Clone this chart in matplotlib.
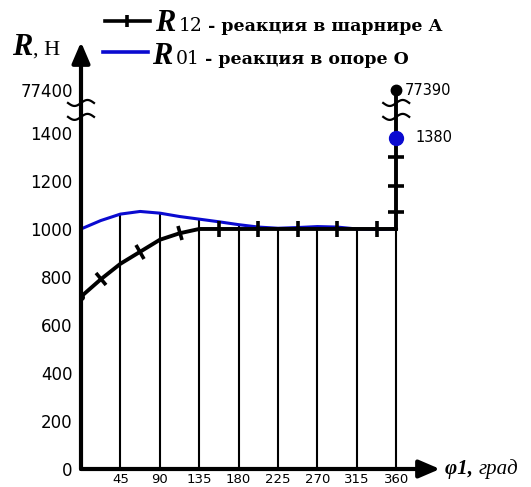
import numpy as np
import matplotlib
matplotlib.use("Agg")
import matplotlib.pyplot as plt
from matplotlib.markers import MarkerStyle
from matplotlib.transforms import Affine2D, IdentityTransform
from matplotlib.lines import Line2D

# ---- data -------------------------------------------------------------
angles = [0, 22.5, 45, 67.5, 90, 112.5, 135, 157.5, 180, 202.5,
          225, 247.5, 270, 292.5, 315, 337.5, 360]
r12 = [718, 790, 855, 905, 955, 982, 1000, 1000, 1000, 1000,
       1000, 1000, 1000, 1000, 1000, 1000, 1000]
r01 = [1000, 1035, 1062, 1073, 1066, 1052, 1041, 1030, 1018, 1008,
       1003, 1006, 1010, 1008, 1000, 998, 1000]

# jump of R12 at phi = 360
jump_angle = 360
r12_jump = [1000, 1070, 1180, 1300, 77390]
r12_peak = 77390
r01_peak = 1380

grid_angles = [45, 90, 135, 180, 225, 270, 315, 360]
x_ticks = [45, 90, 135, 180, 225, 270, 315, 360]
y_ticks = [0, 200, 400, 600, 800, 1000, 1200, 1400, 77400]

# ---- broken y scale ---------------------------------------------------
LIN_TOP = 1450.0
BRK_VAL = 77400.0
BRK_U = 1579.0
K = (BRK_U - LIN_TOP) / (BRK_VAL - LIN_TOP)


def fwd(v):
    v = np.asarray(v, dtype=float)
    return np.where(v <= LIN_TOP, v, LIN_TOP + (v - LIN_TOP) * K)


def inv(u):
    u = np.asarray(u, dtype=float)
    return np.where(u <= LIN_TOP, u, LIN_TOP + (u - LIN_TOP) / K)


W, H = 531, 487
DPI = 100
fig = plt.figure(figsize=(W / DPI, H / DPI), dpi=DPI)
ax = fig.add_axes([81 / W, 1 - 469 / H, (440 - 81) / W, (469 - 42) / H])
ax.set_yscale("function", functions=(fwd, inv))
ax.set_xlim(0, 410)
ax.set_ylim(0, float(inv(1779)))
for s in ax.spines.values():
    s.set_visible(False)

BLUE = "#0a0ad0"
SANS = "DejaVu Sans"
SERIF = "DejaVu Serif"
TIMES = "Liberation Serif"

# vertical lines at every 45 degrees
top_at = {a: max(b, c) for a, b, c in zip(angles, r12, r01)}
ax.vlines(grid_angles, 0, [top_at[a] if a != 360 else 1000 for a in grid_angles],
          color="black", lw=1.5, zorder=1)

# curves
ax.plot(angles, r01, color=BLUE, lw=2.2, zorder=3, solid_capstyle="round")
ax.plot(angles, r12, color="black", lw=2.8, zorder=4, solid_capstyle="round")
ax.plot([jump_angle] * len(r12_jump), r12_jump, color="black", lw=2.8, zorder=4)
ax.plot([angles[0]], [r12[0]], "o", color="black", ms=4, zorder=5)
ax.plot([jump_angle], [r12_peak], "o", color="black", ms=7.5, zorder=6)
ax.plot([jump_angle], [r01_peak], "o", color=BLUE, ms=10, zorder=6)

# axes arrows
arrow = dict(arrowstyle="-|>,head_length=0.7,head_width=0.3", lw=3,
             color="black", shrinkA=0, shrinkB=0, mutation_scale=18)
ax.annotate("", xy=(1, 0), xytext=(0, 0), xycoords="axes fraction",
            arrowprops=arrow, annotation_clip=False, zorder=7)
ax.annotate("", xy=(0, 1), xytext=(0, 0), xycoords="axes fraction",
            arrowprops=arrow, annotation_clip=False, zorder=7)

# ticks
ax.set_xticks(x_ticks)
ax.set_xticklabels([str(t) for t in x_ticks], fontsize=9.5, family=SANS)
ax.set_yticks(y_ticks)
ax.set_yticklabels([str(t) for t in y_ticks], fontsize=12, family=SANS)
ax.tick_params(axis="both", length=0)
ax.tick_params(axis="y", pad=6)
ax.tick_params(axis="x", pad=3)
ax.minorticks_off()

# value labels at phi = 360
ax.annotate(str(r12_peak), xy=(jump_angle, r12_peak), xytext=(6.5, 0),
            textcoords="offset points", fontsize=10.5, family=SANS,
            va="center", ha="left")
ax.annotate(str(r01_peak), xy=(jump_angle, r01_peak), xytext=(14, 0),
            textcoords="offset points", fontsize=10.5, family=SANS,
            va="center", ha="left")

fig.canvas.draw()
renderer = fig.canvas.get_renderer()

# perpendicular strokes on the R12 curve
disp = ax.transData.transform(np.column_stack([angles, r12]))
for i in range(1, len(angles) - 1, 2):
    d = disp[i + 1] - disp[i - 1]
    ang = np.degrees(np.arctan2(d[1], d[0]))
    m = MarkerStyle("|", transform=Affine2D().rotate_deg(ang))
    ax.plot([angles[i]], [r12[i]], marker=m, color="black", ms=11, mew=2.6,
            zorder=5)
for v in r12_jump[1:-1]:
    ax.plot([jump_angle], [v], marker="_", color="black", ms=11, mew=2.6,
            zorder=5)


# wavy break marks on both vertical lines
def wave(xd, u_level):
    cx, cy = ax.transData.transform((xd, float(inv(u_level))))
    t = np.linspace(-1, 1, 40)
    xs = cx + 13 * t
    ys = cy + 3.0 * np.sin(np.pi * t)
    fig.add_artist(Line2D(xs, ys, transform=IdentityTransform(),
                          color="black", lw=1.6, zorder=8))


for u in (1467, 1525):
    wave(0, u)
    wave(jump_angle, u)


# text pieces laid out one after another (pixel coords, origin top-left)
def chain(x_px, y_px, pieces):
    for s, gap, kw in pieces:
        x_px += gap
        t = fig.text(x_px / W, 1 - y_px / H, s, va="baseline", ha="left", **kw)
        x_px += t.get_window_extent(renderer).width


R_STYLE = dict(fontsize=22, family=TIMES, weight="bold", style="italic")
SUB_STYLE = dict(fontsize=13.5, family=SERIF)
LEG_STYLE = dict(fontsize=12.5, family=SERIF, weight="bold")

chain(12, 55, [("R", 0, R_STYLE),
               (", Н", 1, dict(fontsize=16, family=TIMES))])

# legend
fig.add_artist(Line2D([105, 150], [H - 21, H - 21], transform=IdentityTransform(),
                      color="black", lw=2.6))
fig.add_artist(Line2D([127], [H - 21], transform=IdentityTransform(),
                      color="black", marker="|", ms=9, mew=2.6))
fig.add_artist(Line2D([103, 148], [H - 52, H - 52], transform=IdentityTransform(),
                      color=BLUE, lw=2.6))
chain(155, 31, [("R", 0, R_STYLE),
                ("12", 3, SUB_STYLE),
                (" - реакция в шарнире А", 0, LEG_STYLE)])
chain(152, 64, [("R", 0, R_STYLE),
                ("01", 3, SUB_STYLE),
                (" - реакция в опоре О", 0, LEG_STYLE)])

# x axis caption
chain(445, 474, [("φ1, ", 0, dict(fontsize=15, family=TIMES, style="italic", weight="bold")),
                 ("град", 0, dict(fontsize=15, family=TIMES, style="italic"))])

fig.savefig("out.png", dpi=DPI)
